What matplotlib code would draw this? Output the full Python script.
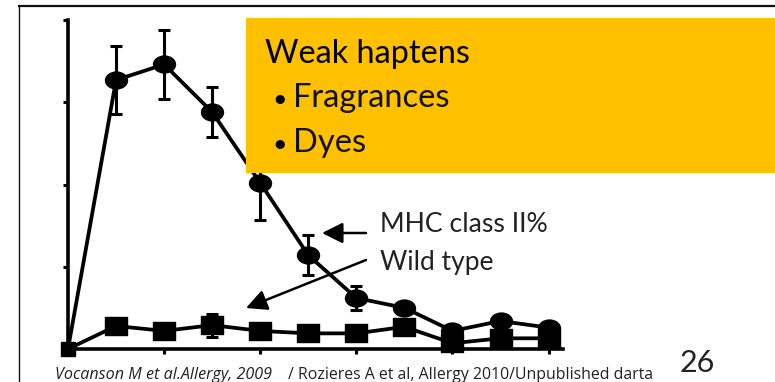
import numpy as np
import matplotlib
matplotlib.use("Agg")
import matplotlib.pyplot as plt
from matplotlib.path import Path
from matplotlib.patches import Rectangle, FancyArrowPatch
from matplotlib.lines import Line2D

# --- data -------------------------------------------------------------
time_points = [0, 0.5, 1, 1.5, 2, 2.5, 3, 3.5, 4, 4.5, 5]
mhc_class2 = [0, 32.7, 34.6, 28.8, 20.2, 11.4, 6.2, 5.0, 2.2, 3.4, 2.6]
mhc_class2_err = [0, 4.1, 4.2, 3.0, 4.5, 2.4, 1.5, 0.6, 0.3, 0.3, 0.3]
wild_type = [0, 2.8, 2.2, 2.9, 2.2, 1.9, 1.9, 2.7, 0.7, 1.3, 1.3]
wild_type_err = [0, 0.4, 0.3, 1.4, 0.3, 0.3, 0.3, 0.4, 0.3, 0.3, 0.3]
x_ticks = [1, 2, 3, 4, 5]
y_ticks = [0, 10, 20, 30, 40]

W, H = 775, 382
fig = plt.figure(figsize=(W / 100, H / 100), dpi=100)
fig.patch.set_facecolor("white")
renderer = fig.canvas.get_renderer()


def fx(x):
    return x / W


def fy(y):
    return 1 - y / H


def fitted_text(x, baseline, s, right, size, **kw):
    """Place text at a pixel position and scale it to end at `right`."""
    t = fig.text(fx(x), fy(baseline), s, fontsize=size, va="baseline",
                 ha="left", **kw)
    width = t.get_window_extent(renderer).width
    if width > 0:
        t.set_fontsize(size * (right - x) / width)
    return t


# slide frame (top and left rules)
fig.add_artist(Line2D([fx(19), fx(W)], [fy(6), fy(6)], color="#111111", lw=1.6))
fig.add_artist(Line2D([fx(19), fx(19)], [fy(6), fy(H)], color="#111111", lw=1.0))

ax = fig.add_axes([fx(68), fy(349), fx(563) - fx(68), (349 - 20) / H])
ax.set_xlim(0, 5.15)
ax.set_ylim(0, 40)
for s in ("top", "right"):
    ax.spines[s].set_visible(False)
for s in ("left", "bottom"):
    ax.spines[s].set_linewidth(2.6)
    ax.spines[s].set_color("black")
ax.set_xticks(x_ticks)
ax.set_yticks(y_ticks)
ax.set_xticklabels([])
ax.set_yticklabels([])
ax.tick_params(axis="both", direction="out", length=3.5, width=2.2, color="black")
ax.patch.set_alpha(0)

# slightly wide markers
circ = Path.unit_circle()
ellipse_marker = Path(circ.vertices * np.array([1.0, 0.77]), circ.codes)
rect_marker = Path([(-1, -0.82), (1, -0.82), (1, 0.82), (-1, 0.82), (-1, -0.82)],
                   [Path.MOVETO, Path.LINETO, Path.LINETO, Path.LINETO, Path.CLOSEPOLY])

ms = 15.8
lw = 2.7

ax.errorbar(time_points, mhc_class2, yerr=mhc_class2_err, fmt="none",
            ecolor="black", elinewidth=2.2, capsize=4.2, capthick=2.2,
            clip_on=False, zorder=3)
ax.errorbar(time_points, wild_type, yerr=wild_type_err, fmt="none",
            ecolor="black", elinewidth=2.2, capsize=4.2, capthick=2.2,
            clip_on=False, zorder=3)

ax.plot(time_points, mhc_class2, color="black", lw=lw, marker=ellipse_marker,
        ms=ms, markevery=list(range(1, len(time_points))), clip_on=False, zorder=4)
ax.plot(time_points, wild_type, color="black", lw=lw, marker=rect_marker,
        ms=ms, markevery=list(range(1, len(time_points))), clip_on=False, zorder=5)
ax.plot([time_points[0]], [wild_type[0]], marker="s", ms=9.5, color="black",
        clip_on=False, zorder=6)

# highlighted box
fig.add_artist(Rectangle((fx(246), fy(173)), fx(W) - fx(246), (173 - 18) / H,
                         facecolor="#FFC000", edgecolor="none", zorder=10))

box_font = "Lato"
fitted_text(265, 63, "Weak haptens", 469, 23.5, family=box_font,
            zorder=11, color="black")
for yb, label, right in ((107, "Fragrances", 448), (152, "Dyes", 360)):
    fig.text(fx(272), fy(yb), "\u2022", fontsize=18, family=box_font,
             va="baseline", ha="left", zorder=11, color="black")
    fig.text(fx(293), fy(yb), label, fontsize=23.5, family=box_font,
             va="baseline", ha="left", zorder=11, color="#111111")

# series labels with arrows
fitted_text(380, 232, "MHC class II%", 548, 18, family=box_font,
            color="#222222")
fig.text(fx(380), fy(270), "Wild type", fontsize=19, family=box_font,
         va="baseline", ha="left", color="#222222")

arrow_kw = dict(arrowstyle="-|>,head_length=0.9,head_width=0.45", lw=1.8,
                color="black", shrinkA=0, shrinkB=0)
fig.add_artist(FancyArrowPatch(
    (fx(366), fy(233)), (fx(322), fy(233)), transform=fig.transFigure,
    mutation_scale=14, **arrow_kw))
fig.add_artist(FancyArrowPatch(
    (fx(366), fy(260)), (fx(246), fy(308)), transform=fig.transFigure,
    mutation_scale=14, **arrow_kw))

# citation and page number
fitted_text(55, 379, "Vocanson M et al.Allergy, 2009", 273, 11.6,
            family="Open Sans", style="italic", color="#222222")
fitted_text(288, 379, "/ Rozieres A et al, Allergy 2010/Unpublished darta", 655,
            11.5, family="Open Sans", color="#222222")
fig.text(fx(680), fy(372), "26", fontsize=22, family=box_font,
         va="baseline", ha="left", color="#222222")

fig.savefig("out.png", dpi=100)
